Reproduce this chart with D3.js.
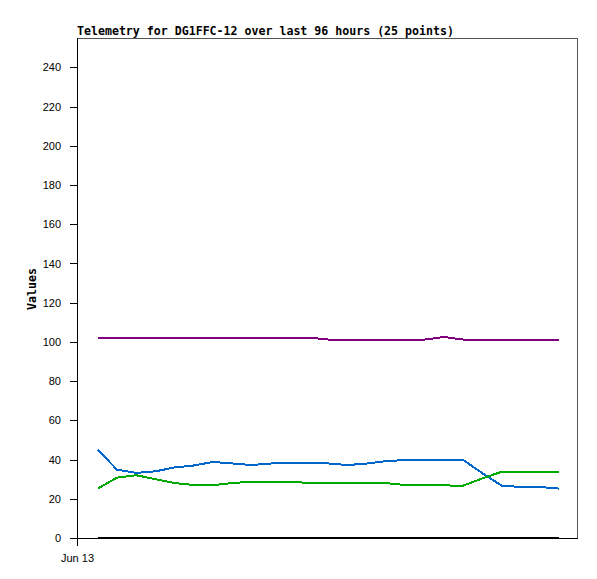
<!DOCTYPE html>
<html lang="en">
<head>
	<meta charset="utf-8" />
	<title>Telemetry for DG1FFC-12</title>
	<script type="text/javascript" src="https://d3js.org/d3.v7.min.js"></script>
	<style>
		body { margin: 0; background: #fff; }
		.tick text { font-family: "Liberation Sans", Arial, sans-serif; font-size: 11px; fill: #000; }
		.title, .ylabel { font-family: "DejaVu Sans Mono", monospace; font-weight: bold; font-size: 11.6px; fill: #000; }
	</style>
</head>
<body>
<script type="text/javascript">

	// sample times (every 4 hours)
	var times = [
		"2024-06-13T04:20", "2024-06-13T08:20", "2024-06-13T12:20", "2024-06-13T16:20", "2024-06-13T20:20",
		"2024-06-14T00:20", "2024-06-14T04:20", "2024-06-14T08:20", "2024-06-14T12:20", "2024-06-14T16:20", "2024-06-14T20:20",
		"2024-06-15T00:20", "2024-06-15T04:20", "2024-06-15T08:20", "2024-06-15T12:20", "2024-06-15T16:20", "2024-06-15T20:20",
		"2024-06-16T00:20", "2024-06-16T04:20", "2024-06-16T08:20", "2024-06-16T12:20", "2024-06-16T16:20", "2024-06-16T20:20",
		"2024-06-17T00:20", "2024-06-17T04:20"
	];

	var purple = [102.2, 102.2, 102.2, 102.2, 102.2, 102.2, 102.2, 102.2, 102.2, 102.2, 102.2, 102.2, 101.2, 101.2, 101.2, 101.2, 101.2, 101.2, 102.5, 101.2, 101.2, 101.2, 101.2, 101.2, 101.2];
	var blue   = [45, 34.8, 33.2, 34, 36, 37, 38.8, 38, 37.2, 38, 38, 38, 38, 37.2, 38, 39.2, 39.8, 39.8, 39.8, 39.8, 33, 26.7, 26, 26, 25.2];
	var green  = [25.2, 30.8, 32, 30, 28, 27, 27, 28, 28.8, 28.8, 28.8, 28, 28, 28, 28, 28, 27, 26.8, 26.8, 26.7, 30.4, 33.8, 33.8, 33.8, 33.8];
	var black  = [0, 0, 0, 0, 0, 0, 0, 0, 0, 0, 0, 0, 0, 0, 0, 0, 0, 0, 0, 0, 0, 0, 0, 0, 0];

	var yTicks = [0, 20, 40, 60, 80, 100, 120, 140, 160, 180, 200, 220, 240];

	var width = 597, height = 579;
	var margin = {top: 38, right: 20, bottom: 41, left: 77};

	var parse = d3.timeParse('%Y-%m-%dT%H:%M');
	var dates = times.map(parse);

	var svg = d3.select('body').append('svg')
		.attr('width', width)
		.attr('height', height);

	var x = d3.scaleTime()
		.domain([parse('2024-06-13T00:00'), parse('2024-06-17T08:00')])
		.range([margin.left, width - margin.right]);

	var y = d3.scaleLinear()
		.domain([0, 255])
		.range([height - margin.bottom, margin.top]);

	// frame
	svg.append('rect')
		.attr('x', margin.left + 0.5)
		.attr('y', margin.top + 0.5)
		.attr('width', width - margin.left - margin.right)
		.attr('height', height - margin.top - margin.bottom)
		.attr('fill', 'none')
		.attr('stroke', '#555')
		.attr('shape-rendering', 'crispEdges');

	var yAxis = svg.append('g')
		.attr('transform', 'translate(' + margin.left + ',0)')
		.call(d3.axisLeft(y).tickValues(yTicks).tickSize(7).tickPadding(9).tickSizeOuter(0));

	var xAxis = svg.append('g')
		.attr('transform', 'translate(0,' + (height - margin.bottom) + ')')
		.call(d3.axisBottom(x)
			.tickValues([parse('2024-06-13T00:00')])
			.tickFormat(d3.timeFormat('%b %e'))
			.tickSize(8).tickPadding(8).tickSizeOuter(0));

	[yAxis, xAxis].forEach(function(g) {
		g.select('.domain').attr('stroke', '#000').attr('shape-rendering', 'crispEdges');
		g.selectAll('.tick line').attr('stroke', '#000').attr('shape-rendering', 'crispEdges');
		g.selectAll('.tick text').attr('font-family', null).attr('font-size', null);
	});
	yAxis.select('.domain').attr('d', 'M0.5,' + margin.top + 'V' + (height - margin.bottom));

	svg.append('text')
		.attr('class', 'title')
		.attr('x', margin.left)
		.attr('y', 35)
		.text('Telemetry for DG1FFC-12 over last 96 hours (25 points)');

	svg.append('text')
		.attr('class', 'ylabel')
		.attr('transform', 'translate(36,289) rotate(-90)')
		.attr('text-anchor', 'middle')
		.text('Values');

	var line = d3.line()
		.x(function(d, i) { return x(dates[i]); })
		.y(function(d) { return y(d); });

	var series = [
		{values: purple, color: '#800080'},
		{values: blue, color: '#0066cc'},
		{values: green, color: '#00aa00'},
		{values: black, color: '#000000'}
	];

	svg.append('g')
		.selectAll('path')
		.data(series)
		.enter()
		.append('path')
		.attr('d', function(s) { return line(s.values); })
		.attr('fill', 'none')
		.attr('stroke', function(s) { return s.color; })
		.attr('stroke-width', 2)
		.attr('shape-rendering', 'crispEdges');

</script>
</body>
</html>
